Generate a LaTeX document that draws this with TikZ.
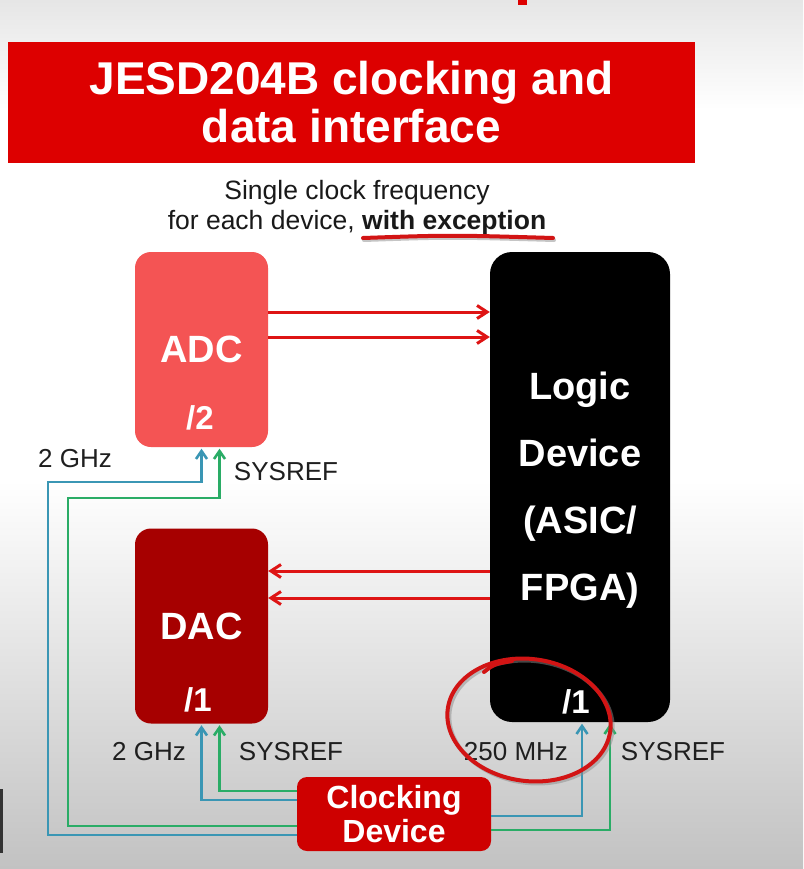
\documentclass[tikz,border=0pt]{standalone}
\usepackage{fontspec}
\setmainfont{Liberation Sans}
\usetikzlibrary{arrows.meta,calc}
\definecolor{titlered}{RGB}{221,0,0}
\definecolor{adcred}{RGB}{244,84,84}
\definecolor{dacred}{RGB}{166,0,0}
\definecolor{clkred}{RGB}{206,0,0}
\definecolor{datared}{RGB}{222,20,20}
\definecolor{clkblue}{RGB}{58,150,180}
\definecolor{refgreen}{RGB}{42,172,102}
\definecolor{penred}{RGB}{210,20,20}
\definecolor{bgtop}{RGB}{230,230,230}
\definecolor{bgbot}{RGB}{194,194,194}
\tikzset{
  titlebox/.style={fill=titlered, minimum width=687pt, minimum height=121pt, inner sep=0pt,
               align=center, text=white, font=\fontsize{46}{48}\selectfont\bfseries},
  devbox/.style={rounded corners=16pt, minimum width=133pt, minimum height=195pt,
               inner sep=0pt, text=white, font=\fontsize{38}{40}\selectfont\bfseries},
  logicbox/.style={devbox, fill=black, rounded corners=22pt, minimum width=180pt,
               minimum height=470pt, align=center, font=\fontsize{38}{67}\selectfont\bfseries},
  clkbox/.style={devbox, fill=clkred, rounded corners=10pt, minimum width=194pt,
               minimum height=74pt, align=center, font=\fontsize{32}{34}\selectfont\bfseries},
  divtxt/.style={text=white, inner sep=0pt, font=\fontsize{33}{35}\selectfont\bfseries},
  lbl/.style={inner sep=0pt, text=black!88, font=\fontsize{26}{28}\selectfont},
  data/.style={-{Straight Barb[length=10pt,width=13pt]}, line width=3pt, datared},
  clk/.style={-{Straight Barb[length=8pt,width=11pt]}, line width=2.6pt, clkblue, shorten >=1.5pt},
  ref/.style={clk, refgreen},
  penmark/.style={line width=4pt, penred, line cap=round},
  penshadow/.style={line width=4pt, black!45, opacity=0.5, line cap=round},
}

\begin{document}
\begin{tikzpicture}[x=1pt, y=-1pt]
  \useasboundingbox (0,0) rectangle (803,869);
  % background
  \shade[top color=bgtop, bottom color=white] (0,0) rectangle (803,110);
  \fill[white] (0,110) rectangle (803,480);
  \shade[top color=white, bottom color=bgbot] (0,480) rectangle (803,869);
  \fill[titlered] (518,0) rectangle (527,5);
  \fill[black!80] (0,789) rectangle (3,853);

  % title and subtitle
  \node[titlebox] (title) at (351.5,102.5) {JESD204B clocking and\\data interface};
  \node[align=center, inner sep=0pt, text=black!90, font=\fontsize{26.5}{30}\selectfont]
    (subtitle) at (357,208) {Single clock frequency\\for each device, \textbf{with exception}};
  \draw[penshadow] (364,240) .. controls (450,237) .. (554,240);
  \draw[penmark] (363,238) .. controls (450,235) .. (553,238);

  % devices
  \node[devbox, fill=adcred] (adc) at (201.5,349.5) {ADC};
  \node[divtxt] (adcdiv) at (200,418) {/2};
  \node[devbox, fill=dacred] (dac) at (201.5,626) {DAC};
  \node[divtxt] (dacdiv) at (198,700) {/1};
  \node[logicbox] (logic) at (580,487) {};
  \node[align=center, text=white, inner sep=0pt, font=\fontsize{38}{67}\selectfont\bfseries]
    (logictxt) at (580,490) {Logic\\Device\\(ASIC/\\FPGA)};
  \node[divtxt] (logicdiv) at (576,702) {/1};
  \node[clkbox] (clkdev) at (394,814) {Clocking\\Device};

  % data lanes
  \draw[data] ([yshift=37.5pt]adc.east) -- ([yshift=37.5pt]adc.east -| logic.west);
  \draw[data] ([yshift=12.5pt]adc.east) -- ([yshift=12.5pt]adc.east -| logic.west);
  \draw[data] ([yshift=55pt]dac.east -| logic.west) -- ([yshift=55pt]dac.east);
  \draw[data] ([yshift=28pt]dac.east -| logic.west) -- ([yshift=28pt]dac.east);

  % clocks and sysref
  \draw[clk] ([yshift=-21pt]clkdev.west) -| (48,482) -| (adc.south);
  \draw[ref] ([yshift=-12pt]clkdev.west) -| (68,498) -| ([xshift=18pt]adc.south);
  \draw[clk] ([yshift=14pt]clkdev.west) -| (dac.south);
  \draw[ref] ([yshift=23pt]clkdev.west) -| ([xshift=18pt]dac.south);
  \draw[clk] ([yshift=-2pt]clkdev.east) -| ([xshift=2pt]logic.south);
  \draw[ref] ([yshift=-16pt]clkdev.east) -| ([xshift=30pt]logic.south);

  \node[lbl] (adcclk) at (75,459) {2 GHz};
  \node[lbl] (adcref) at (286,472) {SYSREF};
  \node[lbl] (dacclk) at (149,752) {2 GHz};
  \node[lbl] (dacref) at (291,752) {SYSREF};
  \node[lbl] (logicclk) at (516,752) {250 MHz};
  \node[lbl] (logicref) at (673,752) {SYSREF};

  % hand drawn circle
  \draw[penshadow] (531,722) ellipse [x radius=82, y radius=61, rotate=-8];
  \draw[penmark] (529,720) ellipse [x radius=82, y radius=61, rotate=-8];
  \draw[penmark] (484,672) .. controls (494,664) .. (512,661);
\end{tikzpicture}
\end{document}
